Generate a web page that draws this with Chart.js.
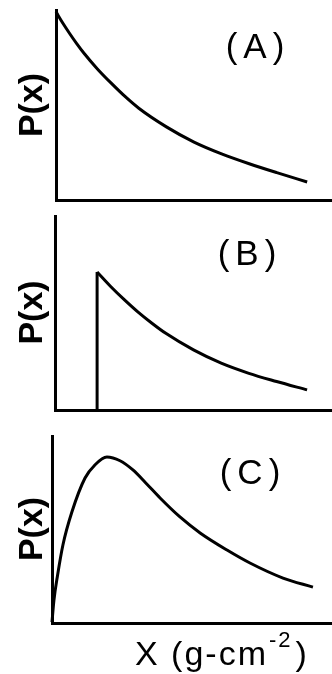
<!DOCTYPE html>
<html><head><meta charset="utf-8">
<script src="https://cdn.jsdelivr.net/npm/chart.js@4"></script>
<style>
html,body{margin:0;padding:0;background:#fff;width:332px;height:674px;overflow:hidden}
canvas{position:absolute;left:0}
</style></head><body>
<canvas id="cA" width="332" height="215" style="top:0px"></canvas>
<canvas id="cB" width="332" height="220" style="top:215px"></canvas>
<canvas id="cC" width="332" height="239" style="top:435px"></canvas>
<script>
// ---- text ----
const panelLabels = ['(A)', '(B)', '(C)'];
const yAxisTitle = 'P(x)';
const xAxisTitleMain = 'X (g-cm';
const xAxisTitleSup = '-2';
const xAxisTitleEnd = ')';

// ---- data (arbitrary units; axes 0..100) ----
// (A) pure decay from x = 0
const xA = [0, 2.5, 5, 7.5, 10, 15, 20, 25, 30, 40, 50, 60, 70, 80, 91];
const yA = [99, 93, 87.5, 82.3, 77.5, 69, 61.5, 54.5, 48.3, 38.5, 30.5, 24.3, 19.1, 14.4, 9.5];
// (B) decay starting at a threshold
const xB = [15.2, 20, 25, 30, 35, 40, 50, 60, 70, 80, 91];
const yB = [70.8, 63.5, 56.6, 50.2, 44.5, 39.3, 30.8, 24.0, 18.8, 14.6, 10.3];
// (C) rise then fall
const xC = [0, 0.7, 2.0, 3.9, 7.1, 11.8, 15.4, 19.6, 24.3, 28.9, 33.5, 38.6, 45.7, 52.9, 62.5, 70.7, 82.5, 93.2];
const yC = [0.5, 12.2, 25.5, 41.5, 59.0, 77.1, 84.2, 88.3, 86.3, 81.4, 74.5, 66.5, 56.4, 47.9, 38.8, 31.9, 23.9, 19.1];

const pts = (xs, ys) => xs.map((x, i) => ({x, y: ys[i]}));

const panelText = {
  id: 'panelText',
  afterDraw(chart, args, o) {
    const ctx = chart.ctx;
    ctx.save();
    ctx.fillStyle = '#000';
    ctx.font = '35px "Liberation Sans", Arial, sans-serif';
    ctx.letterSpacing = '6px';
    ctx.textAlign = 'center';
    ctx.textBaseline = 'middle';
    ctx.fillText(o.label, o.lx + 3, o.ly);
    ctx.letterSpacing = '0px';
    if (o.xTitle) {
      ctx.textAlign = 'left';
      ctx.textBaseline = 'alphabetic';
      ctx.letterSpacing = '2px';
      let x = o.tx;
      ctx.font = '34px "Liberation Sans", Arial, sans-serif';
      ctx.fillText(xAxisTitleMain, x, o.ty);
      x += ctx.measureText(xAxisTitleMain).width + 1;
      ctx.font = '22px "Liberation Sans", Arial, sans-serif';
      ctx.fillText(xAxisTitleSup, x, o.ty - 18);
      x += ctx.measureText(xAxisTitleSup).width + 3;
      ctx.font = '34px "Liberation Sans", Arial, sans-serif';
      ctx.fillText(xAxisTitleEnd, x, o.ty);
    }
    ctx.restore();
  }
};

function makeChart(id, datasets, cfg) {
  const lineStyle = {borderColor: '#000', borderWidth: 3, pointRadius: 0, fill: false, showLine: true, clip: false};
  return new Chart(document.getElementById(id), {
    type: 'scatter',
    data: {datasets: datasets.map(d => Object.assign({}, lineStyle, d))},
    options: {
      responsive: false,
      animation: false,
      events: [],
      layout: {padding: {left: 0, right: 0, top: cfg.top, bottom: cfg.bottom}},
      plugins: {legend: {display: false}, tooltip: {enabled: false}, panelText: cfg.text},
      scales: {
        x: {
          type: 'linear', min: 0, max: 100,
          ticks: {display: false}, grid: {display: false},
          border: {display: true, color: '#000', width: 3},
          afterFit: s => { s.height = 0; }
        },
        y: {
          type: 'linear', min: 0, max: 100,
          ticks: {display: false}, grid: {display: false},
          border: {display: true, color: '#000', width: 3},
          title: {display: true, text: yAxisTitle, color: '#000',
                  font: {family: '"Liberation Sans", Arial, sans-serif', size: 34, weight: 'bold'},
                  padding: {top: 12, bottom: 0}},
          afterFit: s => { s.width = cfg.left; }
        }
      }
    },
    plugins: [panelText]
  });
}

makeChart('cA', [
  {data: pts(xA, yA), cubicInterpolationMode: 'monotone'}
], {top: 10, bottom: 15, left: 56, text: {label: panelLabels[0], lx: 255, ly: 48}});

makeChart('cB', [
  {data: [{x: xB[0], y: 0}, {x: xB[0], y: yB[0]}], tension: 0},
  {data: pts(xB, yB), cubicInterpolationMode: 'monotone'}
], {top: 0, bottom: 25, left: 55, text: {label: panelLabels[1], lx: 247, ly: 40}});

makeChart('cC', [
  {data: pts(xC, yC), cubicInterpolationMode: 'monotone'}
], {top: 0, bottom: 51, left: 52, text: {label: panelLabels[2], lx: 250, ly: 39, xTitle: true, tx: 135, ty: 230}});
</script>
</body></html>
